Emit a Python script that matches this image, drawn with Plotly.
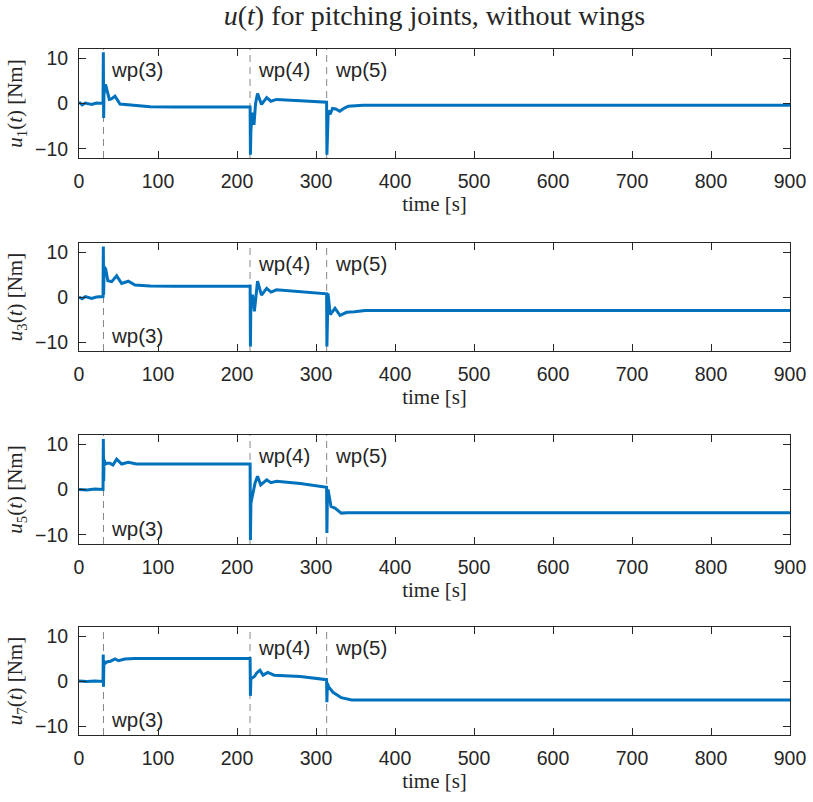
import plotly.graph_objects as go
from plotly.subplots import make_subplots

# Control input torque of the pitching joints (no wings), sampled at breakpoints
t_u1 = [0, 4, 8, 12, 16, 22, 30.4, 30.8, 31.2, 31.6, 33.6, 38.4, 41, 45.6, 51.9, 58, 65, 75, 90, 120,
        216.6, 217.0, 217.6, 219.2, 221.5, 223.5, 226, 231, 237.6, 243, 250, 280, 313.4,
        313.8, 314.4, 315.5, 317.7, 321, 325, 330, 336, 341, 350, 360, 400, 900]
u1 = [0.3, -0.3, 0.1, 0.0, -0.2, 0.1, 0.0, 11.3, -3.2, 2.0, 4.2, 0.9, 1.0, 1.6, -0.1, -0.2, -0.4, -0.6, -0.7, -0.75,
      -0.75, -11.3, -6.0, -2.0, -4.7, 0.0, 2.2, -0.2, 1.3, 0.5, 0.9, 0.6, 0.3,
      -11.3, -5.0, -1.5, -2.4, -1.1, -1.2, -1.7, -1.0, -0.6, -0.5, -0.4, -0.4, -0.4]

t_u3 = [0, 4, 8, 12, 16, 22, 30.4, 30.8, 31.2, 31.8, 33.8, 36.5, 41.4, 47.7, 54, 62.4, 70.9, 90, 120,
        216.6, 217.0, 217.5, 219.5, 222, 226, 231, 237.6, 243, 250, 280, 313.4,
        313.8, 314.4, 315.2, 318, 324, 330.4, 338.8, 349, 362, 400, 900]
u3 = [0.0, -0.4, 0.1, -0.1, -0.3, 0.0, 0.1, 11.2, 0.5, 6.7, 6.2, 3.6, 3.4, 4.7, 3.0, 3.5, 2.65, 2.45, 2.4,
      2.4, -11.0, -2.0, 0.5, -3.2, 3.5, 0.4, 1.9, 1.1, 1.6, 1.2, 0.7,
      -11.0, -2.0, 0.8, -3.9, -2.5, -4.1, -3.4, -3.3, -3.0, -3.0, -3.0]

t_u5 = [0, 10, 20, 30.4, 30.8, 31.2, 31.8, 33, 35, 39, 43, 47.7, 54, 62.4, 72.5, 120,
        216.6, 217.0, 217.6, 220.7, 223, 226, 230, 237.6, 243, 250, 280, 313.4,
        313.8, 314.4, 315.2, 319, 324, 332, 340, 360, 900]
u5 = [0.0, -0.1, 0.1, 0.0, 11.1, 1.9, 6.6, 5.5, 5.8, 5.8, 5.4, 6.7, 5.6, 6.0, 5.6, 5.6,
      5.6, -11.1, -3.0, -0.4, 1.5, 2.9, 1.0, 2.1, 1.5, 1.8, 1.3, 0.5,
      -9.6, -1.5, 0.0, -3.75, -4.1, -5.2, -5.1, -5.1, -5.1]

t_u7 = [0, 10, 20, 30.4, 30.7, 31.0, 31.5, 33, 36, 40, 45.6, 50, 58, 70, 120,
        216.6, 217.0, 217.6, 222, 225, 229, 233, 239, 247, 280, 313.4,
        313.8, 314.4, 316, 321.5, 332, 345, 360, 900]
u7 = [0.0, -0.1, 0.0, -0.1, 5.9, -1.3, 4.5, 3.9, 4.3, 4.4, 4.9, 4.5, 4.9, 5.0, 5.0,
      5.0, -3.3, 0.5, 1.0, 1.8, 2.4, 1.3, 1.9, 1.3, 1.0, 0.3,
      -4.7, -0.5, -1.3, -2.5, -3.7, -4.2, -4.2, -4.2]

series = [(t_u1, u1, "1"), (t_u3, u3, "3"), (t_u5, u5, "5"), (t_u7, u7, "7")]

# Waypoint switching times and their labels
wp_times = [31, 216.5, 313.5]
wp_labels = ["wp(3)", "wp(4)", "wp(5)"]

x_ticks = [0, 100, 200, 300, 400, 500, 600, 700, 800, 900]
y_ticks = [-10, 0, 10]

W, H = 813, 802
LINE_BLUE = "#0072BD"
AX_COL = "#262626"
SANS = "Liberation Sans, Arial, Helvetica, sans-serif"
SERIF = "Liberation Serif, Times New Roman, serif"

# pixel rows (top, bottom) of each axes box
boxes = [(49, 158), (243, 351), (435, 544), (627, 735)]
x_left, x_right = 79, 790

fig = make_subplots(rows=4, cols=1)

for i, (tt, uu, idx) in enumerate(series, start=1):
    fig.add_trace(go.Scatter(x=tt, y=uu, mode="lines",
                             line=dict(color=LINE_BLUE, width=3),
                             showlegend=False, hoverinfo="skip"),
                  row=i, col=1)

layout = dict(width=W, height=H, margin=dict(l=0, r=0, t=0, b=0, autoexpand=False),
              paper_bgcolor="white", plot_bgcolor="white",
              font=dict(family=SANS, color=AX_COL, size=19))

annotations = []
shapes = []
for i, ((top, bot), (_, _, idx)) in enumerate(zip(boxes, series), start=1):
    xa = "xaxis" if i == 1 else f"xaxis{i}"
    ya = "yaxis" if i == 1 else f"yaxis{i}"
    xr = "x" if i == 1 else f"x{i}"
    yr = "y" if i == 1 else f"y{i}"
    layout[xa] = dict(domain=[x_left / W, x_right / W], range=[0, 900],
                      tickvals=x_ticks, ticks="inside", ticklen=7, tickwidth=1,
                      tickcolor=AX_COL, showline=True, linecolor=AX_COL, linewidth=1,
                      mirror="ticks", showgrid=False, zeroline=False, automargin=False,
                      tickfont=dict(size=19.5, color=AX_COL, family=SANS),
                      ticklabelstandoff=6,
                      title=dict(text="time [s]", font=dict(family=SERIF, size=21, color=AX_COL),
                                 standoff=4),
                      anchor=yr)
    layout[ya] = dict(domain=[1 - bot / H, 1 - top / H], range=[-12, 12],
                      tickvals=y_ticks, ticks="inside", ticklen=7, tickwidth=1,
                      tickcolor=AX_COL, showline=True, linecolor=AX_COL, linewidth=1,
                      mirror="ticks", showgrid=False, zeroline=False, automargin=False,
                      tickfont=dict(size=19.5, color=AX_COL, family=SANS),
                      ticklabelstandoff=6,
                      title=dict(text=f"<i>u</i><sub>{idx}</sub>(<i>t</i>) [Nm]",
                                 font=dict(family=SERIF, size=21, color=AX_COL),
                                 standoff=6),
                      anchor=xr)
    for k, (tw, lab) in enumerate(zip(wp_times, wp_labels)):
        shapes.append(dict(type="line", xref=xr, yref=f"{yr} domain",
                           x0=tw, x1=tw, y0=0, y1=1,
                           line=dict(color="rgba(38,38,38,0.55)", width=1, dash="7px,5px"),
                           layer="below"))
        at_bottom = (k == 0 and i > 1)
        annotations.append(dict(text=lab, xref=xr, yref=f"{yr} domain",
                                x=tw, y=0.14 if at_bottom else 0.81,
                                xanchor="left", yanchor="middle", xshift=6,
                                showarrow=False,
                                font=dict(family=SANS, size=20.5, color=AX_COL)))

layout["annotations"] = annotations
layout["shapes"] = shapes
layout["title"] = dict(text="<i>u</i>(<i>t</i>) for pitching joints, without wings",
                       x=(x_left + x_right) / 2 / W, xanchor="center",
                       y=1 - 15 / H, yanchor="middle",
                       font=dict(family=SERIF, size=28, color=AX_COL))

fig.update_layout(**layout)
fig.write_html("out.html")
